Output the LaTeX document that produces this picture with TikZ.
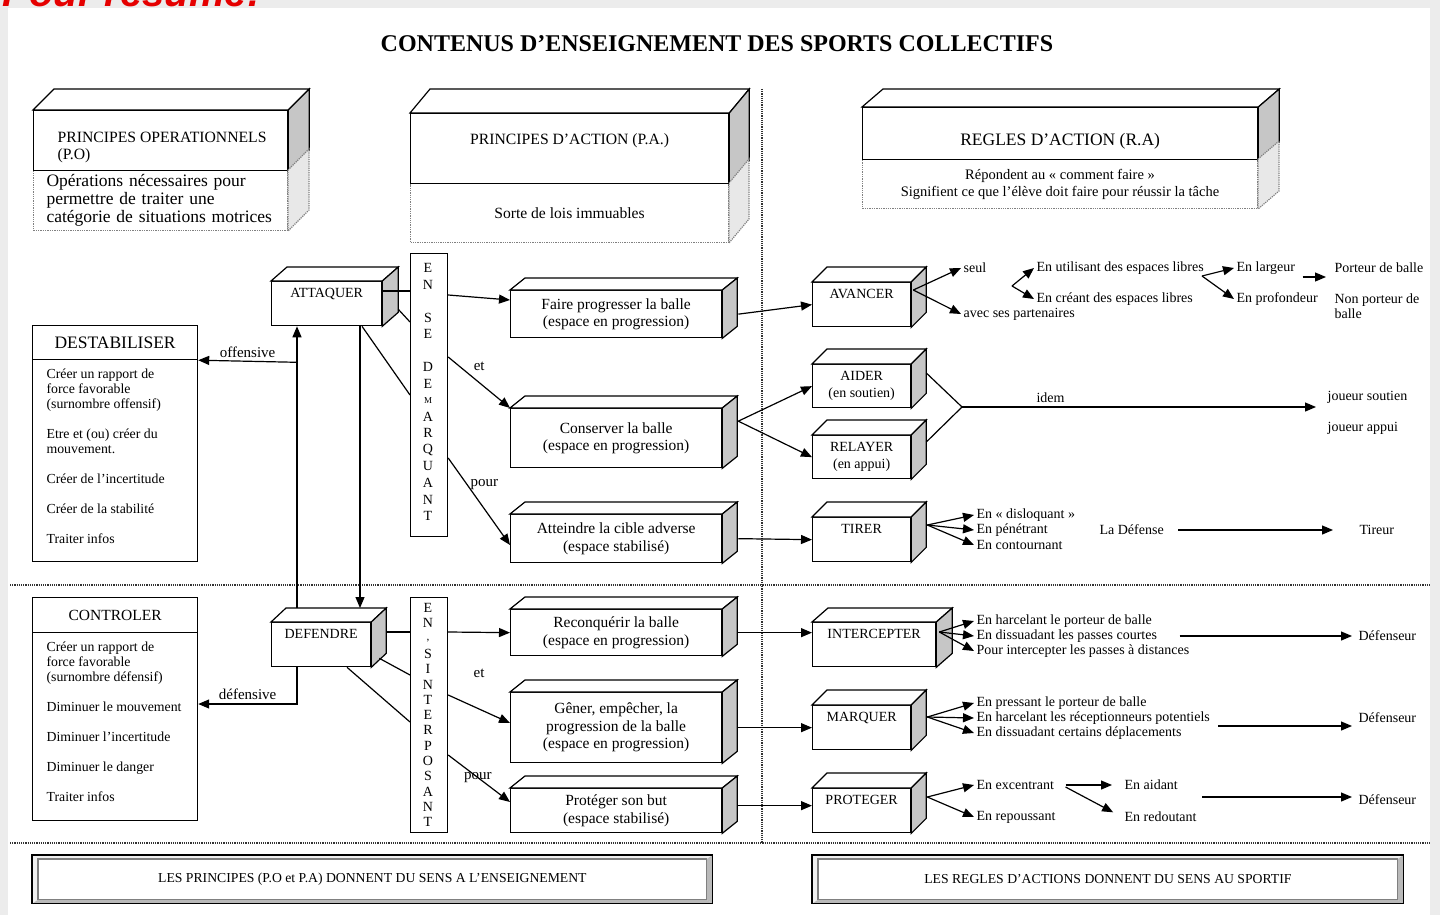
\documentclass[tikz,border=0pt]{standalone}
\usepackage{fontspec}
\setmainfont{Liberation Serif}
\setsansfont{Liberation Sans}
\usetikzlibrary{arrows.meta}
\usetikzlibrary{calc}

% faces du dessus et de cote d'un pave
\newcommand{\relief}[3]{%
  \filldraw[fill=white] (#1.north west) -- ++(#2,-#3) -- ($(#1.north east)+(#2,-#3)$) -- (#1.north east) -- cycle;
  \filldraw[fill=gray!45] (#1.north east) -- ++(#2,-#3) -- ($(#1.south east)+(#2,-#3)$) -- (#1.south east) -- cycle;
}
% cote pointille des cadres d'en-tete
\newcommand{\flanc}[3]{%
  \filldraw[fill=gray!18, draw=gray, densely dotted] (#1.north east) -- ++(#2,-#3) -- ($(#1.south east)+(#2,-#3)$) -- (#1.south east) -- cycle;
}
% bandeau en biseau
\newcommand{\biseau}[1]{%
  \fill[gray!12] (#1.north west) -- ($(#1.north west)+(6,4)$) -- ($(#1.south west)+(6,-4)$) -- (#1.south west) -- cycle;
  \fill[gray!12] (#1.north west) -- ($(#1.north west)+(6,4)$) -- ($(#1.north east)+(-6,4)$) -- (#1.north east) -- cycle;
  \fill[gray!55] (#1.south east) -- ($(#1.south east)+(-6,-4)$) -- ($(#1.north east)+(-6,4)$) -- (#1.north east) -- cycle;
  \fill[gray!55] (#1.south east) -- ($(#1.south east)+(-6,-4)$) -- ($(#1.south west)+(6,-4)$) -- (#1.south west) -- cycle;
  \draw (#1.north west) rectangle (#1.south east);
  \draw[gray] ($(#1.north west)+(6,4)$) rectangle ($(#1.south east)+(-6,-4)$);
}

\begin{document}
\begin{tikzpicture}[x=1pt, y=-1pt, line width=1.2pt, >={Triangle[length=11pt,width=9pt]},
    every node/.style={font=\fontsize{14}{15}\selectfont},
    boite/.style={draw, line width=1.3pt, fill=white, anchor=north west, inner sep=0pt, align=center},
    haut/.style={text height=15.5pt, text depth=28.5pt},
    milieu/.style={boite, minimum width=211pt, font=\fontsize{15.5}{17.5}\selectfont},
    droite/.style={boite, minimum width=98pt, minimum height=44pt},
    cadre/.style={boite, line width=1.2pt},
    pointille/.style={boite, draw=gray, densely dotted, line width=1pt},
    liste/.style={anchor=north west, align=left, inner sep=0pt, font=\fontsize{13.8}{15}\selectfont},
    rtxt/.style={anchor=west, inner sep=2pt},
    lettre/.style={inner sep=0pt, font=\fontsize{14}{14}\selectfont},
    etiq/.style={font=\fontsize{15}{15}\selectfont},
    sep/.style={densely dotted, line width=1.2pt, draw=black!80}]

    % fond
    \useasboundingbox (0,0) rectangle (1440,915);
    \fill[gray!15] (0,0) rectangle (1440,915);
    \fill[white] (8,8) rectangle (1430,915);
    \begin{scope}
        \clip (0,0) rectangle (1440,8);
        \node[anchor=base west, inner sep=0pt, text=red!90!black, font=\sffamily\bfseries\itshape\fontsize{40}{40}\selectfont] (resume) at (2,7) {Pour résumé:};
    \end{scope}

    % separations
    \draw[sep] (10,585) -- (1430,585);
    \draw[sep] (10,843) -- (1430,843);
    \draw[sep] (762,89) -- (762,843);

    \node[font=\bfseries\fontsize{24}{28}\selectfont] (titre) at (717,44) {CONTENUS D'ENSEIGNEMENT DES SPORTS COLLECTIFS};

    % en-tetes
    \node[pointille, minimum width=254pt, minimum height=60pt, text width=228pt, inner xsep=13pt, align=left, font=\fontsize{17.5}{18}\selectfont] (po-bas) at (33,170) {Opérations nécessaires pour\\permettre de traiter une\\catégorie de situations motrices};
    \node[boite, minimum width=254pt, minimum height=60pt] (po) at (33,110) {};
    \node[liste, font=\fontsize{15.7}{17}\selectfont] (po-t) at (57,132) {PRINCIPES OPERATIONNELS\\(P.O)};
    \relief{po}{21}{21}
    \flanc{po-bas}{21}{21}

    \node[pointille, minimum width=318pt, minimum height=59pt, font=\fontsize{15.6}{17}\selectfont] (pa-bas) at (410,183) {Sorte de lois immuables};
    \node[boite, minimum width=318pt, minimum height=70pt, text height=31pt, text depth=39pt, font=\fontsize{15.7}{17}\selectfont] (pa) at (410,113) {PRINCIPES D'ACTION (P.A.)};
    \relief{pa}{20}{24}
    \flanc{pa-bas}{20}{24}

    \node[pointille, minimum width=395pt, minimum height=49pt, font=\fontsize{14.5}{17}\selectfont] (ra-bas) at (862,159) {Répondent au « comment faire »\\Signifient ce que l'élève doit faire pour réussir la tâche};
    \node[boite, minimum width=395pt, minimum height=52pt, text height=38pt, text depth=14pt, font=\fontsize{17.5}{19}\selectfont] (ra) at (862,107) {REGLES D'ACTION (R.A)};
    \relief{ra}{21}{18}
    \flanc{ra-bas}{21}{18}

    % principes operationnels
    \node[cadre, minimum width=165pt, minimum height=34pt, font=\fontsize{17.5}{20}\selectfont] (des) at (32,325) {DESTABILISER};
    \node[cadre, minimum width=165pt, minimum height=202pt] (des-c) at (32,359) {};
    \node[liste] (des-t) at (46,368) {Créer un rapport de\\force favorable\\(surnombre offensif)\\[15pt]Etre et (ou) créer du\\mouvement.\\[15pt]Créer de l'incertitude\\[15pt]Créer de la stabilité\\[15pt]Traiter infos};
    \node[cadre, minimum width=165pt, minimum height=35pt, font=\fontsize{15.5}{18}\selectfont] (ctl) at (32,597) {CONTROLER};
    \node[cadre, minimum width=165pt, minimum height=188pt] (ctl-c) at (32,632) {};
    \node[liste] (ctl-t) at (46,641) {Créer un rapport de\\force favorable\\(surnombre défensif)\\[15pt]Diminuer le mouvement\\[15pt]Diminuer l'incertitude\\[15pt]Diminuer le danger\\[15pt]Traiter infos};

    \node[boite, haut, minimum width=110pt] (att) at (271,281) {ATTAQUER};
    \node[boite, haut, minimum width=99pt] (def) at (271,622) {DEFENDRE};
    \relief{att}{16}{14}
    \relief{def}{15}{14}

    % colonnes de lettres
    \node[cadre, minimum width=37pt, minimum height=283pt] (dem) at (410,253) {};
    \foreach \l [count=\i] in {E,N,{},S,E,{},D,E,{\fontsize{9}{9}\selectfont M},A,R,Q,U,A,N,T}
        \node[lettre] (dem-\i) at (428,{268+(\i-1)*16.53}) {\l};
    \node[cadre, minimum width=37pt, minimum height=235pt] (int) at (410,597) {};
    \foreach \l [count=\i] in {E,N,{},S,I,N,T,E,R,P,O,S,A,N,T}
        \node[lettre] (int-\i) at (428,{608+(\i-1)*15.3}) {\l};
    \node[lettre, font=\fontsize{11}{11}\selectfont] (int-ap) at (428,643) {'};

    % principes d'action
    \node[milieu, minimum height=47pt] (fp) at (510,290) {Faire progresser la balle\\(espace en progression)};
    \node[milieu, minimum height=59pt] (cons) at (510,408) {Conserver la balle\\(espace en progression)};
    \node[milieu, minimum height=48pt] (atc) at (510,514) {Atteindre la cible adverse\\(espace stabilisé)};
    \node[milieu, minimum height=46pt] (rec) at (510,609) {Reconquérir la balle\\(espace en progression)};
    \node[milieu, minimum height=70pt] (gen) at (510,692) {Gêner, empêcher, la\\progression de la balle\\(espace en progression)};
    \node[milieu, minimum height=44pt] (prt) at (510,788) {Protéger son but\\(espace stabilisé)};
    \foreach \n in {fp,cons,atc,rec,gen,prt} {\relief{\n}{15}{12}}

    % regles d'action
    \node[droite, haut] (av) at (812,282) {AVANCER};
    \node[droite, minimum height=43pt, font=\fontsize{14}{17}\selectfont] (aid) at (812,364) {AIDER\\(en soutien)};
    \node[droite, minimum height=43pt, font=\fontsize{14}{17}\selectfont] (rel) at (812,435) {RELAYER\\(en appui)};
    \node[droite, haut] (tir) at (812,517) {TIRER};
    \node[droite, haut, minimum width=123pt] (icp) at (812,622) {INTERCEPTER};
    \node[droite, haut] (mar) at (812,705) {MARQUER};
    \node[droite, haut] (pro) at (812,788) {PROTEGER};
    \foreach \n in {av,aid,rel,tir,mar,pro} {\relief{\n}{15}{15}}
    \relief{icp}{16}{14}

    % textes de droite
    \node[rtxt] (seul) at (961,268) {seul};
    \node[rtxt] (part) at (961,314) {avec ses partenaires};
    \node[rtxt] (util) at (1034,268) {En utilisant des espaces libres};
    \node[rtxt] (crea) at (1034,299) {En créant des espaces libres};
    \node[rtxt] (larg) at (1234,268) {En largeur};
    \node[rtxt] (prof) at (1234,299) {En profondeur};
    \node[rtxt] (port) at (1332,268) {Porteur de balle};
    \node[rtxt, align=left] (nonp) at (1332,306.5) {Non porteur de\\balle};
    \node[rtxt] (jsou) at (1325,397) {joueur soutien};
    \node[rtxt] (japp) at (1325,428) {joueur appui};
    \node[rtxt] (disl) at (974,515) {En « disloquant »};
    \node[rtxt] (pene) at (974,530) {En pénétrant};
    \node[rtxt] (cont) at (974,545) {En contournant};
    \node[rtxt] (ladef) at (1097,530) {La Défense};
    \node[rtxt] (tireur) at (1357,530) {Tireur};
    \node[rtxt] (harc) at (974,621) {En harcelant le porteur de balle};
    \node[rtxt] (dissc) at (974,636) {En dissuadant les passes courtes};
    \node[rtxt] (pint) at (974,651) {Pour intercepter les passes à distances};
    \node[rtxt] (dfs1) at (1356,636) {Défenseur};
    \node[rtxt] (pres) at (974,703) {En pressant le porteur de balle};
    \node[rtxt] (harr) at (974,718) {En harcelant les réceptionneurs potentiels};
    \node[rtxt] (dissd) at (974,733) {En dissuadant certains déplacements};
    \node[rtxt] (dfs2) at (1356,718) {Défenseur};
    \node[rtxt] (exc) at (974,785) {En excentrant};
    \node[rtxt] (rep) at (974,817) {En repoussant};
    \node[rtxt] (aid2) at (1122,785) {En aidant};
    \node[rtxt] (red) at (1122,817) {En redoutant};
    \node[rtxt] (dfs3) at (1356,800) {Défenseur};

    % bandeaux du bas
    \node[boite, line width=0.8pt, minimum width=680pt, minimum height=48pt, font=\fontsize{13.7}{15}\selectfont] (barre-g) at (32,855) {LES PRINCIPES (P.O et P.A) DONNENT DU SENS A L'ENSEIGNEMENT};
    \node[boite, line width=0.8pt, minimum width=591pt, minimum height=48pt, font=\fontsize{13.7}{15}\selectfont] (barre-d) at (812,855) {LES REGLES D'ACTIONS DONNENT DU SENS AU SPORTIF};
    \biseau{barre-g}
    \biseau{barre-d}

    % attaquer / defendre
    \draw ($(att.north east)+(0,10)$) -- ($(dem.north west)+(0,38)$);
    \draw ($(att.south east)+(16,-17)$) -- ($(dem.north west)+(0,69)$);
    \draw ($(att.south west)+(91,0)$) -- ($(dem.north west)+(0,142)$);
    \draw[->] ($(att.south west)+(89,0)$) -- ($(def.north west)+(89,-14)$);
    \draw[->] ($(def.north west)+(26,-14)$) -- ($(att.south west)+(26,0)$);
    \draw[->] ($(att.south west)+(26,36)$) -- node[etiq, above] {offensive} (des.south east);
    \draw[->] ($(def.south west)+(26,0)$) |- node[etiq, above, pos=.75] {défensive} ($(ctl-c.north east)+(0,72)$);
    \draw ($(def.north east)+(15,10)$) -- ($(int.north west)+(0,35)$);
    \draw ($(def.south east)+(8,-9)$) -- ($(int.north west)+(0,78)$);
    \draw ($(def.south west)+(76,0)$) -- ($(int.north west)+(0,125)$);

    % vers les principes d'action
    \draw[->] ($(dem.north east)+(0,42)$) -- ($(fp.north west)+(0,10)$);
    \draw[->] ($(dem.north east)+(0,104)$) -- node[etiq, pos=.35, above right] {et} (cons.north west);
    \draw[->] ($(dem.north east)+(0,205)$) -- node[etiq, pos=.3, right] {pour} ($(atc.north west)+(0,31)$);
    \draw[->] ($(int.north east)+(0,35)$) -- (rec.west);
    \draw[->] ($(int.north east)+(0,98)$) -- node[etiq, pos=.5, above=27pt] {et} ($(gen.north west)+(0,31)$);
    \draw[->] ($(int.north east)+(0,158)$) -- node[etiq, pos=.48] {pour} ($(prt.north west)+(0,14)$);

    % vers les regles d'action
    \draw[->] ($(fp.east)+(16,0)$) -- (av.west);
    \draw[->] ($(cons.east)+(16,-17)$) -- (aid.west);
    \draw[->] ($(cons.east)+(16,-17)$) -- (rel.west);
    \draw[->] ($(atc.east)+(16,0)$) -- (tir.west);
    \draw[->] ($(rec.east)+(16,0)$) -- (rec.east -| icp.west);
    \draw[->] ($(gen.east)+(16,0)$) -- (gen.east -| mar.west);
    \draw[->] ($(prt.east)+(16,-5)$) -- ($(pro.west)+(0,-5)$);

    % avancer
    \coordinate (o-av) at ($(av.north east)+(2,8)$);
    \draw[->] (o-av) -- (seul.west);
    \draw[->] (o-av) -- (part.west);
    \coordinate (b1) at (1012,286);
    \draw[->] (b1) -- (util.west);
    \draw[->] (b1) -- (crea.west);
    \coordinate (b2) at (1202,276);
    \draw[->] (b2) -- (larg.west);
    \draw[->] (b2) -- (prof.west);
    \draw[->] ($(larg.east)+(5,9)$) -- ($(port.west)+(-6,9)$);

    % aider / relayer
    \coordinate (o-id) at (962,407);
    \coordinate (f-id) at (1316,407);
    \draw ($(aid.north east)+(15,9)$) -- (o-id) -- ($(rel.north east)+(15,7)$);
    \draw[->] (o-id) -- node[above, pos=.25] {idem} (f-id);

    % tirer
    \coordinate (o-ti) at ($(tir.north east)+(16,8)$);
    \draw[->] (o-ti) -- (disl.west);
    \draw[->] (o-ti) -- (pene.west);
    \draw[->] (o-ti) -- (cont.west);
    \draw[->, shorten <=12pt, shorten >=24pt] (ladef.east) -- (tireur.west);

    % intercepter
    \coordinate (o-ic) at ($(icp.north east)+(3,10)$);
    \draw[->] (o-ic) -- (harc.west);
    \draw[->] (o-ic) -- (dissc.west);
    \draw[->] (o-ic) -- (pint.west);
    \draw[->, shorten <=20pt, shorten >=4pt] (dissc.east) -- (dfs1.west);

    % marquer
    \coordinate (o-ma) at ($(mar.north east)+(16,12)$);
    \draw[->] (o-ma) -- (pres.west);
    \draw[->] (o-ma) -- (harr.west);
    \draw[->] (o-ma) -- (dissd.west);
    \draw[->] ($(harr.east)+(6,8)$) -- ($(dfs2.west)+(-4,8)$);

    % proteger
    \coordinate (o-pr) at ($(pro.north east)+(16,9)$);
    \draw[->] (o-pr) -- (exc.west);
    \draw[->] (o-pr) -- (rep.west);
    \draw[->, shorten >=10pt] ($(exc.east)+(9,0)$) -- (aid2.west);
    \draw[->, shorten >=10pt] ($(exc.east)+(9,2)$) -- (red.west);
    \coordinate (p-pr) at (1202,797);
    \draw[->] (p-pr) -- ($(dfs3.west)+(-4,-3)$);
\end{tikzpicture}
\end{document}
